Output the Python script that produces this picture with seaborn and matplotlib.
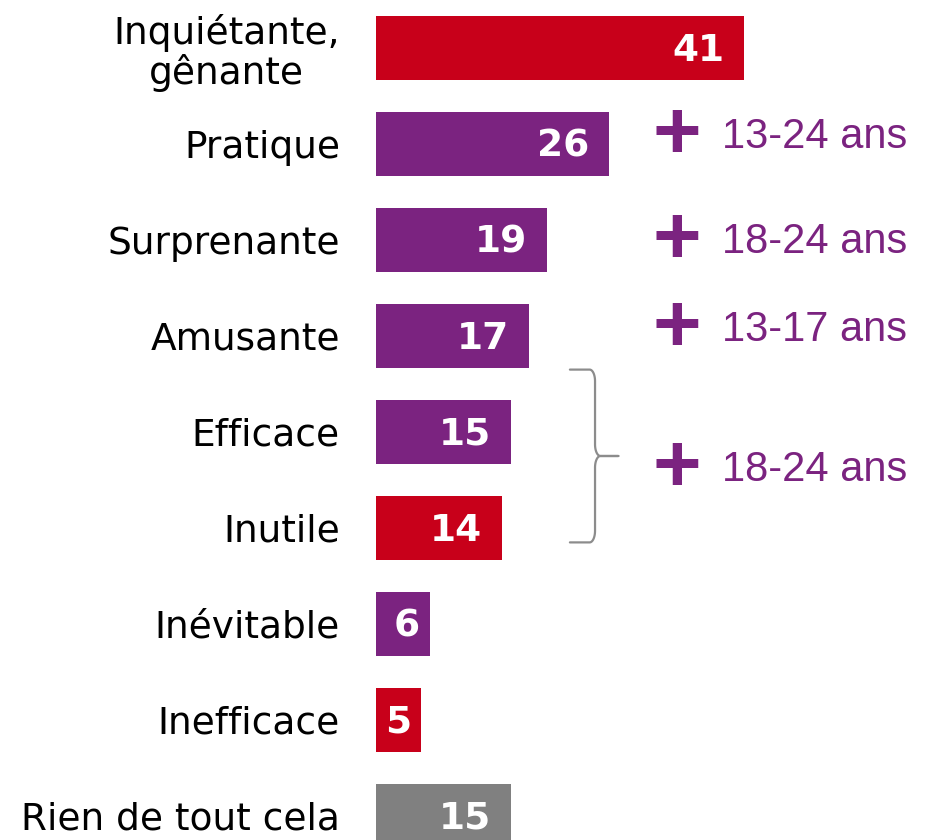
import numpy as np
import matplotlib.pyplot as plt
import seaborn as sns

labels = ['Inquiétante,\ngênante', 'Pratique', 'Surprenante', 'Amusante', 'Efficace',
          'Inutile', 'Inévitable', 'Inefficace', 'Rien de tout cela']
values = [41, 26, 19, 17, 15, 14, 6, 5, 15]
bar_colors = ['#C8001A', '#7B2380', '#7B2380', '#7B2380', '#7B2380',
              '#C8001A', '#7B2380', '#C8001A', '#808080']

age_notes = ['13-24 ans', '18-24 ans', '13-17 ans', '18-24 ans']
age_rows = [0.93, 2.02, 2.94, 4.4]

purple = '#7B2380'
brace_color = '#8C8C8C'

sns.set_style('white')
plt.rcParams['font.family'] = ['DejaVu Sans']

fig = plt.figure(figsize=(9.33, 8.4), dpi=100)
ax = fig.add_axes([376 / 933, 0, 1 - 376 / 933, 1])

sns.barplot(x=values, y=labels, hue=labels, palette=bar_colors, legend=False,
            width=0.667, saturation=1, orient='h', linewidth=0, ax=ax)

ax.set_xlim(0, 62.05)
ax.set_ylim(8.25, -0.5)
sns.despine(ax=ax, left=True, bottom=True)
ax.set_xticks([])
ax.set_xlabel('')
ax.set_ylabel('')
ax.tick_params(axis='y', length=0, pad=26, labelsize=27, labelcolor='black')
for t in ax.get_yticklabels():
    t.set_multialignment('center')
    t.set_linespacing(1.05)

# value labels inside bars
for i, v in enumerate(values):
    off = 2.2 if v >= 10 else 1.1
    ax.text(v - off, i + 0.03, str(v), ha='right', va='center', color='white',
            fontsize=27, fontweight='bold')

# age notes on the right
for row, note in zip(age_rows, age_notes):
    ax.text(33.5, row, '+', ha='center', va='center', color=purple, fontsize=60,
            fontweight='bold', family='Liberation Sans')
    ax.text(38.5, row, note, ha='left', va='center', color=purple, fontsize=30,
            family='Liberation Sans')

# curly brace grouping Efficace / Inutile
y0, ym, y1 = 3.35, 4.25, 5.15
xa, xb, xc = 21.6, 24.4, 27.0
rx, ry = 0.6, 0.12
t = np.linspace(0, np.pi / 2, 16)
# upper half
ux = np.concatenate([[xa], xb - rx + rx * np.sin(t), xb + rx - rx * np.cos(t), [xc]])
uy = np.concatenate([[y0], y0 + ry - ry * np.cos(t), ym - ry + ry * np.sin(t), [ym]])
ax.plot(ux, uy, color=brace_color, lw=1.6, solid_capstyle='round')
# lower half (mirror)
ax.plot(ux, 2 * ym - uy, color=brace_color, lw=1.6, solid_capstyle='round')

fig.savefig('out.png', dpi=100)
